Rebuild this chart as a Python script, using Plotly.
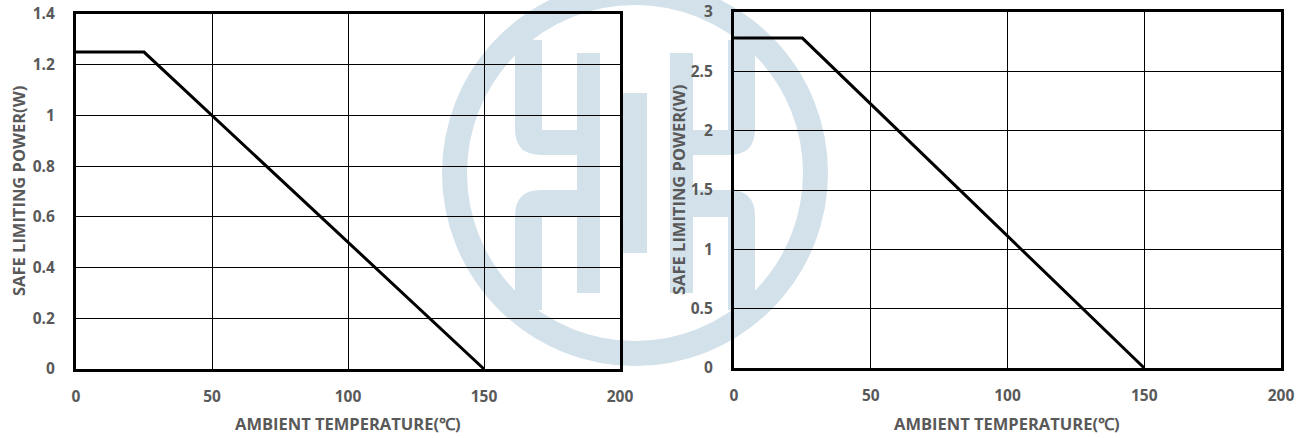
import plotly.graph_objects as go
from plotly.subplots import make_subplots

# ---- data ----
temp_left = [0, 25, 150]
power_left = [1.25, 1.25, 0]
temp_right = [0, 25, 150]
power_right = [2.78, 2.78, 0]

x_title = "AMBIENT TEMPERATURE(℃)"
y_title = "SAFE LIMITING POWER(W)"

W, H = 1306, 438
FONT = "Open Sans"
GRAY = "#595959"
WM = "#d3e1eb"


def px(x):
    return x / W


def py(y):
    return 1 - y / H


fig = make_subplots(rows=1, cols=2)

fig.add_trace(go.Scatter(x=temp_left, y=power_left, mode="lines",
                         line=dict(color="black", width=3), showlegend=False,
                         hoverinfo="skip"), row=1, col=1)
fig.add_trace(go.Scatter(x=temp_right, y=power_right, mode="lines",
                         line=dict(color="black", width=3), showlegend=False,
                         hoverinfo="skip"), row=1, col=2)

axis_common = dict(showline=True, mirror=True, linecolor="black", linewidth=3,
                   showgrid=True, gridcolor="black", gridwidth=1, zeroline=False,
                   tickfont=dict(family=FONT, size=15.5, color=GRAY, weight="bold"),
                   ticks="", automargin=False, ticklabeloverflow="allow")

fig.update_xaxes(range=[0, 200], dtick=50, tick0=0, ticklabelstandoff=11, **axis_common)
fig.update_yaxes(ticklabelstandoff=15, **axis_common)

fig.update_layout(
    xaxis=dict(domain=[px(76), px(620)]),
    xaxis2=dict(domain=[px(734), px(1281)]),
    yaxis=dict(domain=[py(369), py(14)], range=[0, 1.4], dtick=0.2, tick0=0),
    yaxis2=dict(domain=[py(368), py(12)], range=[0, 3], dtick=0.5, tick0=0),
)

# ---- axis titles ----
title_font = dict(family=FONT, size=16.5, color=GRAY, weight="bold")
annos = [
    dict(x=px(348), y=py(423), text=x_title, textangle=0),
    dict(x=px(1007), y=py(423), text=x_title, textangle=0),
    dict(x=px(18), y=py(191), text=y_title, textangle=-90),
    dict(x=px(678), y=py(190), text=y_title, textangle=-90),
]
for a in annos:
    fig.add_annotation(xref="paper", yref="paper", showarrow=False,
                       xanchor="center", yanchor="middle", font=title_font, **a)

# ---- watermark logo (decoration) ----
cx, cy = 635, 173
ro, ri = 193, 168
rm = (ro + ri) / 2
fig.add_shape(type="circle", xref="paper", yref="paper", layer="below",
              x0=px(cx - rm), x1=px(cx + rm), y0=py(cy + rm), y1=py(cy - rm),
              line=dict(color=WM, width=ro - ri), fillcolor="rgba(0,0,0,0)")


def rect(x0, y0, x1, y1):
    fig.add_shape(type="rect", xref="paper", yref="paper", layer="below",
                  x0=px(x0), x1=px(x1), y0=py(y1), y1=py(y0),
                  line=dict(width=0), fillcolor=WM)


def path(pts):
    d = ""
    for cmd, *coords in pts:
        d += cmd
        vals = []
        for i in range(0, len(coords), 2):
            vals.append(f"{px(coords[i]):.5f},{py(coords[i+1]):.5f}")
        d += " ".join(vals) + " "
    d += "Z"
    fig.add_shape(type="path", xref="paper", yref="paper", layer="below",
                  path=d, line=dict(width=0), fillcolor=WM)


# long bars and middle bar
rect(577, 53, 600, 293)
rect(670, 53, 693, 293)
rect(623, 93, 647, 253)

# L pieces with rounded outer corner
r = 26
path([("M", 515, 40), ("L", 542, 40), ("L", 542, 130), ("L", 578, 130),
      ("L", 578, 155), ("L", 515 + r, 155), ("Q", 515, 155, 515, 155 - r)])
path([("M", 515, 310), ("L", 542, 310), ("L", 542, 217), ("L", 578, 217),
      ("L", 578, 190), ("L", 515 + r, 190), ("Q", 515, 190, 515, 190 + r)])
path([("M", 755, 40), ("L", 728, 40), ("L", 728, 130), ("L", 692, 130),
      ("L", 692, 155), ("L", 755 - r, 155), ("Q", 755, 155, 755, 155 - r)])
path([("M", 755, 310), ("L", 728, 310), ("L", 728, 217), ("L", 692, 217),
      ("L", 692, 190), ("L", 755 - r, 190), ("Q", 755, 190, 755, 190 + r)])

fig.update_layout(
    width=W, height=H,
    margin=dict(l=0, r=0, t=0, b=0),
    paper_bgcolor="white",
    plot_bgcolor="rgba(0,0,0,0)",
    showlegend=False,
)

fig.write_html("out.html",
               config={"displayModeBar": False},
               post_script="document.body.style.margin='0';document.body.style.overflow='hidden';")
